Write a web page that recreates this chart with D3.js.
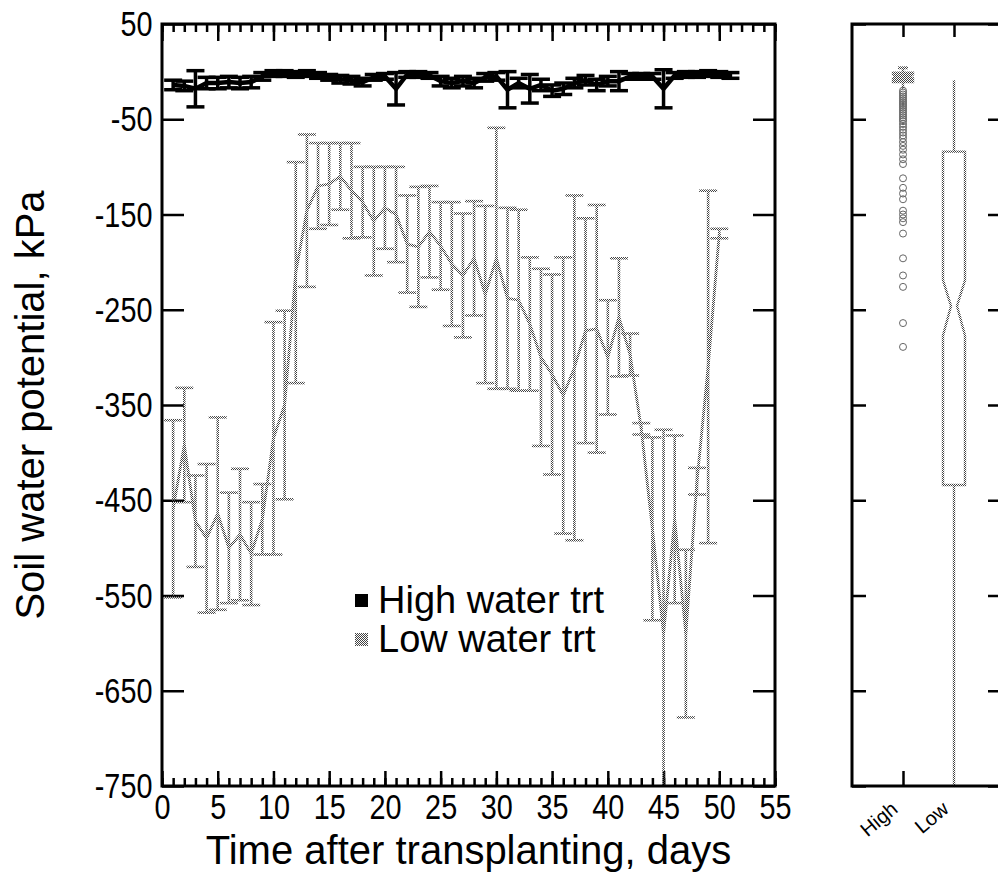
<!DOCTYPE html>
<html><head><meta charset="utf-8">
<script src="https://cdn.jsdelivr.net/npm/d3@7"></script>
<style>
body{margin:0;background:#fff;}
svg{display:block;}
text{font-family:"Liberation Sans",Arial,Helvetica,sans-serif;fill:#000;}
</style>
</head><body>
<svg id="chart" width="998" height="888"></svg>
<script>
// ---------------- data ----------------
const lowDays  = [1,2,3,4,5,6,7,8,9,10,11,12,13,14,15,16,17,18,19,20,21,22,23,24,25,26,27,28,29,30,31,32,33,34,35,36,37,38,39,40,41,42,43,44,45,46,47,48,49,50];
const lowMean  = [-459,-392,-472,-490,-464,-500,-486,-506,-470,-385,-350,-211,-146,-120,-118,-110,-125,-137,-157,-143,-150,-181,-184,-168,-183,-202,-214,-196,-234,-196,-238,-240,-265,-300,-318,-340,-311,-272,-270,-300,-258,-297,-375,-480,-590,-470,-590,-430,-310,-170];
const lowErr   = [93,60,48,78,101,58,69,54,37,122,99,116,80,45,43,35,50,37,57,43,50,51,63,48,46,65,65,60,93,137,95,95,70,93,105,145,181,118,130,60,62,22,6,96,214,88,88,14,185,5];

const highDays = [1,2,3,4,5,6,7,8,9,10,11,12,13,14,15,16,17,18,19,20,21,22,23,24,25,26,27,28,29,30,31,32,33,34,35,36,37,38,39,40,41,42,43,44,45,46,47,48,49,50,51];
const highMean = [-14,-15,-18,-12,-12,-11,-12,-11,-5,-2,-2,-3,-2,-4,-6,-8,-9,-11,-6,-5,-18,-3,-3,-4,-10,-12,-10,-12,-6,-5,-19,-12,-18,-14,-20,-18,-12,-9,-14,-10,-10,-5,-5,-5,-18,-4,-3,-3,-2,-3,-4];
const highErr  = [5,5,19,6,6,6,6,6,4,3,3,3,3,3,3,4,4,4,3,3,17,3,3,3,5,5,5,5,4,4,19,5,15,6,6,6,5,5,6,5,10,3,3,3,20,3,3,3,3,3,3];

const xTicksMajor = [0,5,10,15,20,25,30,35,40,45,50,55];
const xTicksMinor = [0,1,2,3,4,5,6,7,8,9,10,11,12,13,14,15,16,17,18,19,20,21,22,23,24,25,26,27,28,29,30,31,32,33,34,35,36,37,38,39,40,41,42,43,44,45,46,47,48,49,50,51,52,53,54,55];
const yTicks = [50,-50,-150,-250,-350,-450,-550,-650,-750];

const boxCategories = ["High","Low"];
// [whiskerTop, q3, notchTop, median, notchBottom, q1, whiskerBottom]
const highBoxStats = [4,-1,-3,-5,-7,-11,-18];
const lowBoxStats  = [-9,-84,-219,-246,-277,-434,-750];
const highOutliers = [-20,-22,-24,-26,-28,-30,-32,-34,-36,-38,-40,-42,-44,-46,-48,-50,-52,-55,-58,-61,-64,-67,-70,-74,-78,-82,-87,-92,-97,-112,-122,-128,-134,-146,-150,-154,-158,-170,-196,-214,-226,-264,-289];

const legendLabels = ["High water trt","Low water trt"];

// ---------------- layout ----------------
const svg = d3.select("#chart");
const L = {x0:162, x1:775, y0:24, y1:786};
const R = {x0:852, x1:1000};

const x = d3.scaleLinear().domain([0,55]).range([L.x0, L.x1]);
const y = d3.scaleLinear().domain([-750,50]).range([L.y1, L.y0]);
const xc = d3.scalePoint().domain(boxCategories).range([903,954]);

const defs = svg.append("defs");
const pat = defs.append("pattern").attr("id","stip").attr("width",2).attr("height",2).attr("patternUnits","userSpaceOnUse");
pat.append("rect").attr("x",0).attr("y",0).attr("width",1).attr("height",1).attr("fill","#444");
pat.append("rect").attr("x",1).attr("y",1).attr("width",1).attr("height",1).attr("fill","#444");
defs.append("clipPath").attr("id","clipL").append("rect")
  .attr("x",L.x0).attr("y",L.y0).attr("width",L.x1-L.x0).attr("height",L.y1-L.y0);
defs.append("clipPath").attr("id","clipR").append("rect")
  .attr("x",R.x0).attr("y",L.y0).attr("width",R.x1-R.x0).attr("height",L.y1-L.y0);

const tickFont = 36, tickScale = 0.8;
const fmt = d => String(d);

// ---------------- left panel axes ----------------
function styleAxis(g){
  g.select(".domain").remove();
  g.selectAll("line").attr("stroke","#000").attr("stroke-width",2.5);
}
svg.append("g").attr("transform",`translate(0,${L.y1})`)
  .call(d3.axisBottom(x).tickValues(xTicksMinor).tickSize(-8).tickFormat(""))
  .call(styleAxis);
svg.append("g").attr("transform",`translate(0,${L.y0})`)
  .call(d3.axisTop(x).tickValues(xTicksMinor).tickSize(-8).tickFormat(""))
  .call(styleAxis);
svg.append("g").attr("transform",`translate(0,${L.y0})`)
  .call(d3.axisTop(x).tickValues(xTicksMajor).tickSize(-17).tickFormat(""))
  .call(styleAxis);
const xb = svg.append("g").attr("transform",`translate(0,${L.y1})`)
  .call(d3.axisBottom(x).tickValues(xTicksMajor).tickSize(-15).tickPadding(7).tickFormat(fmt))
  .call(styleAxis);
xb.selectAll("text").attr("font-size",tickFont).attr("font-family",null).attr("fill","#000")
  .attr("transform",`scale(${tickScale},1)`);

const yl = svg.append("g").attr("transform",`translate(${L.x0},0)`)
  .call(d3.axisLeft(y).tickValues(yTicks).tickSize(-22).tickPadding(12).tickFormat(fmt))
  .call(styleAxis);
yl.selectAll("text").attr("font-size",tickFont).attr("font-family",null).attr("fill","#000")
  .attr("transform",`scale(${tickScale},1)`);
svg.append("g").attr("transform",`translate(${L.x1},0)`)
  .call(d3.axisRight(y).tickValues(yTicks).tickSize(-22).tickFormat(""))
  .call(styleAxis);

// ---------------- low series ----------------
const gl = svg.append("g").attr("clip-path","url(#clipL)");
const lowData = lowDays.map((d,i)=>({d, m:lowMean[i], e:lowErr[i]}));
const line = d3.line().x(p=>x(p.d)).y(p=>y(p.m));
gl.append("path").datum(lowData).attr("d",line)
  .attr("fill","none").attr("stroke","url(#stip)").attr("stroke-width",2.8);
const capW = 9;
const lb = gl.selectAll("g.lb").data(lowData).join("g").attr("class","lb");
lb.append("line").attr("x1",p=>x(p.d)).attr("x2",p=>x(p.d))
  .attr("y1",p=>y(p.m+p.e)).attr("y2",p=>y(p.m-p.e));
lb.append("line").attr("x1",p=>x(p.d)-capW).attr("x2",p=>x(p.d)+capW)
  .attr("y1",p=>y(p.m+p.e)).attr("y2",p=>y(p.m+p.e));
lb.append("line").attr("x1",p=>x(p.d)-capW).attr("x2",p=>x(p.d)+capW)
  .attr("y1",p=>y(p.m-p.e)).attr("y2",p=>y(p.m-p.e));
lb.selectAll("line").attr("stroke","url(#stip)").attr("stroke-width",2.6);

// ---------------- high series ----------------
const gh = svg.append("g").attr("clip-path","url(#clipL)");
const highData = highDays.map((d,i)=>({d, m:highMean[i], e:highErr[i]}));
gh.append("path").datum(highData).attr("d",line)
  .attr("fill","none").attr("stroke","#000").attr("stroke-width",4.5);
const hb = gh.selectAll("g.hb").data(highData).join("g").attr("class","hb");
hb.append("line").attr("x1",p=>x(p.d)).attr("x2",p=>x(p.d))
  .attr("y1",p=>y(p.m+p.e)).attr("y2",p=>y(p.m-p.e));
hb.append("line").attr("x1",p=>x(p.d)-capW).attr("x2",p=>x(p.d)+capW)
  .attr("y1",p=>y(p.m+p.e)).attr("y2",p=>y(p.m+p.e));
hb.append("line").attr("x1",p=>x(p.d)-capW).attr("x2",p=>x(p.d)+capW)
  .attr("y1",p=>y(p.m-p.e)).attr("y2",p=>y(p.m-p.e));
hb.selectAll("line").attr("stroke","#000").attr("stroke-width",3.5);

// frame left
svg.append("rect").attr("x",L.x0).attr("y",L.y0).attr("width",L.x1-L.x0).attr("height",L.y1-L.y0)
  .attr("fill","none").attr("stroke","#000").attr("stroke-width",3);

// legend
const lg = svg.append("g");
legendLabels.forEach((t,i)=>{
  const yy = 600 + i*39;
  lg.append("rect").attr("x",355).attr("y",yy-6).attr("width",13).attr("height",13)
    .attr("fill", i===0 ? "#000" : "url(#stip)");
  lg.append("text").attr("x",378).attr("y",yy+13).attr("font-size",38).text(t);
});

// titles
svg.append("text").attr("x",(L.x0+L.x1)/2).attr("y",864).attr("text-anchor","middle")
  .attr("font-size",40).text("Time after transplanting, days");
svg.append("text").attr("transform","translate(44,405) rotate(-90)").attr("text-anchor","middle")
  .attr("font-size",40).text("Soil water potential, kPa");

// ---------------- right panel ----------------
svg.append("g").attr("transform",`translate(${R.x0},0)`)
  .call(d3.axisLeft(y).tickValues(yTicks).tickSize(-14).tickFormat(""))
  .call(styleAxis);
svg.append("g").attr("transform",`translate(${R.x1-2},0)`)
  .call(d3.axisRight(y).tickValues(yTicks).tickSize(-10).tickFormat(""))
  .call(styleAxis);
svg.append("g").attr("transform",`translate(0,${L.y0})`)
  .call(d3.axisTop(xc).tickSize(-13).tickFormat(""))
  .call(styleAxis);
const xcb = svg.append("g").attr("transform",`translate(0,${L.y1})`)
  .call(d3.axisBottom(xc).tickSize(-15).tickFormat(""))
  .call(styleAxis);
xcb.selectAll(".tick").filter(d=>d==="Low").select("line").remove();
svg.append("g").selectAll("text").data(boxCategories).join("text")
  .attr("transform",d=>`translate(${xc(d)-4},${L.y1+25}) rotate(-40)`)
  .attr("text-anchor","end").attr("font-size",20).text(d=>d);

const gr = svg.append("g").attr("clip-path","url(#clipR)");
function drawBox(cat, s, hw, nw, fill, stroke){
  const cx = xc(cat);
  const g = gr.append("g");
  g.append("line").attr("x1",cx).attr("x2",cx).attr("y1",y(s[0])).attr("y2",y(s[1]))
    .attr("stroke",stroke).attr("stroke-width",2.4);
  g.append("line").attr("x1",cx).attr("x2",cx).attr("y1",y(s[5])).attr("y2",y(s[6]))
    .attr("stroke",stroke).attr("stroke-width",2.4);
  const pts = [[cx-hw,y(s[1])],[cx+hw,y(s[1])],[cx+hw,y(s[2])],[cx+nw,y(s[3])],[cx+hw,y(s[4])],
               [cx+hw,y(s[5])],[cx-hw,y(s[5])],[cx-hw,y(s[4])],[cx-nw,y(s[3])],[cx-hw,y(s[2])]];
  g.append("path").attr("d",d3.line()(pts)+"Z").attr("fill",fill)
    .attr("stroke",stroke).attr("stroke-width",2.4);
  return g;
}
// high outliers
gr.selectAll("circle.o").data(highOutliers).join("circle").attr("class","o")
  .attr("cx",xc("High")).attr("cy",d=>y(d)).attr("r",3.5)
  .attr("fill","none").attr("stroke","#666").attr("stroke-width",1);
const hg = drawBox("High", highBoxStats, 10, 6, "url(#stip)", "url(#stip)");
hg.append("line").attr("x1",xc("High")-5).attr("x2",xc("High")+5)
  .attr("y1",y(highBoxStats[0])).attr("y2",y(highBoxStats[0])).attr("stroke","url(#stip)").attr("stroke-width",3);
drawBox("Low", lowBoxStats, 11, 3, "none", "url(#stip)");

svg.append("rect").attr("x",R.x0).attr("y",L.y0).attr("width",R.x1-R.x0).attr("height",L.y1-L.y0)
  .attr("fill","none").attr("stroke","#000").attr("stroke-width",3);
</script>
</body></html>
